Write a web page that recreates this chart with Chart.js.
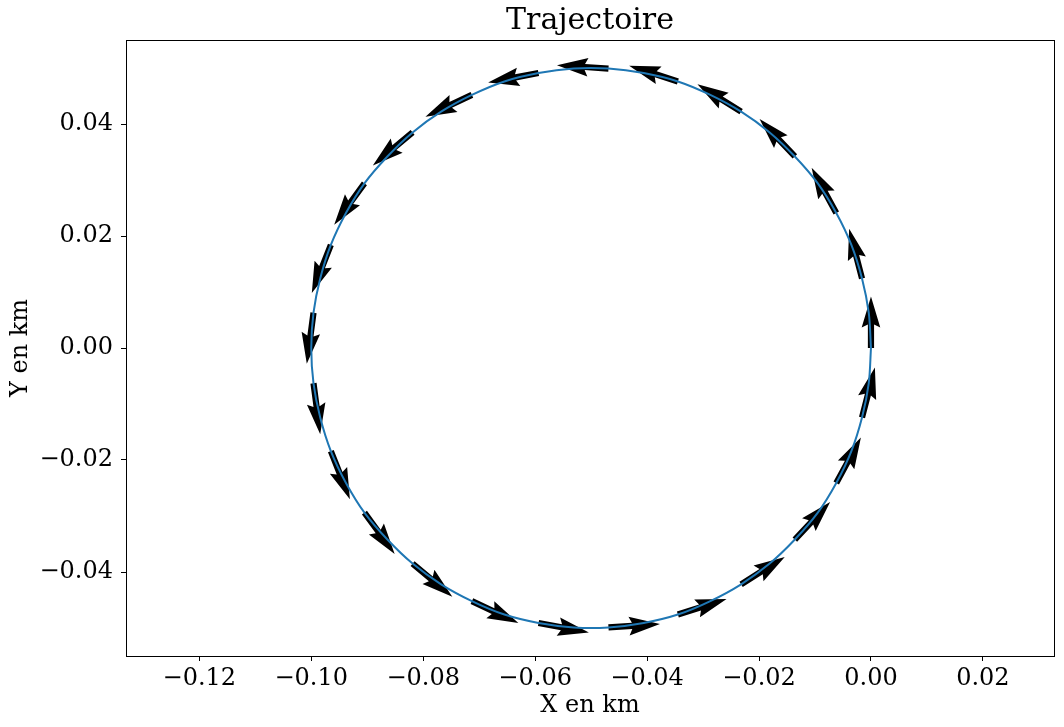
<!DOCTYPE html>
<html>
<head>
<meta charset="utf-8">
<script src="https://cdn.jsdelivr.net/npm/chart.js@4/dist/chart.umd.min.js"></script>
<style>
  html, body { margin: 0; padding: 0; background: #fff; }
  #wrap { width: 1064px; height: 727px; }
</style>
</head>
<body>
<div id="wrap"><canvas id="c" width="1064" height="727"></canvas></div>
<script>
// trajectory (km): circle of radius 0.05 centred on (-0.05, 0)
const trajX = [
  0.0000, -0.0004, -0.0016, -0.0035, -0.0062, -0.0095, -0.0136, -0.0181, -0.0232, -0.0287,
  -0.0345, -0.0406, -0.0469, -0.0531, -0.0594, -0.0655, -0.0713, -0.0768, -0.0819, -0.0864,
  -0.0905, -0.0938, -0.0965, -0.0984, -0.0996, -0.1000, -0.0996, -0.0984, -0.0965, -0.0938,
  -0.0905, -0.0864, -0.0819, -0.0768, -0.0713, -0.0655, -0.0594, -0.0531, -0.0469, -0.0406,
  -0.0345, -0.0287, -0.0232, -0.0181, -0.0136, -0.0095, -0.0062, -0.0035, -0.0016, -0.0004,
  0.0000
];
const trajY = [
  0.0000, 0.0063, 0.0124, 0.0184, 0.0241, 0.0294, 0.0342, 0.0385, 0.0422, 0.0452,
  0.0476, 0.0491, 0.0499, 0.0499, 0.0491, 0.0476, 0.0452, 0.0422, 0.0385, 0.0342,
  0.0294, 0.0241, 0.0184, 0.0124, 0.0063, 0.0000, -0.0063, -0.0124, -0.0184, -0.0241,
  -0.0294, -0.0342, -0.0385, -0.0422, -0.0452, -0.0476, -0.0491, -0.0499, -0.0499, -0.0491,
  -0.0476, -0.0452, -0.0422, -0.0385, -0.0342, -0.0294, -0.0241, -0.0184, -0.0124, -0.0063,
  0.0000
];

// velocity arrows (quiver): tail positions and vector components
const arrowX = [
  0.0000, -0.0016, -0.0062, -0.0136, -0.0232, -0.0345, -0.0469, -0.0594, -0.0713, -0.0819,
  -0.0905, -0.0965, -0.0996, -0.0996, -0.0965, -0.0905, -0.0819, -0.0713, -0.0594, -0.0469,
  -0.0345, -0.0232, -0.0136, -0.0062, -0.0016
];
const arrowY = [
  0.0000, 0.0124, 0.0241, 0.0342, 0.0422, 0.0476, 0.0499, 0.0491, 0.0452, 0.0385,
  0.0294, 0.0184, 0.0063, -0.0063, -0.0184, -0.0294, -0.0385, -0.0452, -0.0491, -0.0499,
  -0.0476, -0.0422, -0.0342, -0.0241, -0.0124
];
const arrowU = [
  0.0000, -0.0023, -0.0044, -0.0063, -0.0078, -0.0087, -0.0092, -0.0090, -0.0083, -0.0071,
  -0.0054, -0.0034, -0.0012, 0.0012, 0.0034, 0.0054, 0.0071, 0.0083, 0.0090, 0.0092,
  0.0087, 0.0078, 0.0063, 0.0044, 0.0023
];
const arrowV = [
  0.0092, 0.0089, 0.0081, 0.0067, 0.0049, 0.0028, 0.0006, -0.0017, -0.0039, -0.0059,
  -0.0074, -0.0086, -0.0091, -0.0091, -0.0086, -0.0074, -0.0059, -0.0039, -0.0017, 0.0006,
  0.0028, 0.0049, 0.0067, 0.0081, 0.0089
];

const xTicks = [-0.12, -0.10, -0.08, -0.06, -0.04, -0.02, 0.00, 0.02];
const yTicks = [-0.04, -0.02, 0.00, 0.02, 0.04];

const SERIF = "'DejaVu Serif', serif";
const fmt = v => (v < -1e-9 ? '\u2212' : '') + Math.abs(v).toFixed(2);

// matplotlib-like quiver arrows, drawn under the line
const quiverPlugin = {
  id: 'quiver',
  beforeDatasetsDraw(chart) {
    const { ctx, chartArea: a, scales: { x, y } } = chart;
    const w = 6.2, hl = 5 * w, hal = 4.5 * w, hw = 3 * w;
    ctx.save();
    ctx.beginPath();
    ctx.rect(a.left, a.top, a.right - a.left, a.bottom - a.top);
    ctx.clip();
    ctx.fillStyle = '#000';
    for (let i = 0; i < arrowX.length; i++) {
      const x0 = x.getPixelForValue(arrowX[i]);
      const y0 = y.getPixelForValue(arrowY[i]);
      const x1 = x.getPixelForValue(arrowX[i] + arrowU[i]);
      const y1 = y.getPixelForValue(arrowY[i] + arrowV[i]);
      const L = Math.hypot(x1 - x0, y1 - y0);
      ctx.save();
      ctx.translate(x0, y0);
      ctx.rotate(Math.atan2(y1 - y0, x1 - x0));
      ctx.beginPath();
      ctx.moveTo(0, -w / 2);
      ctx.lineTo(L - hal, -w / 2);
      ctx.lineTo(L - hl, -hw / 2);
      ctx.lineTo(L, 0);
      ctx.lineTo(L - hl, hw / 2);
      ctx.lineTo(L - hal, w / 2);
      ctx.lineTo(0, w / 2);
      ctx.closePath();
      ctx.fill();
      ctx.restore();
    }
    ctx.restore();
  },
  afterDraw(chart) {
    const { ctx, chartArea: a } = chart;
    ctx.save();
    ctx.strokeStyle = '#000';
    ctx.lineWidth = 1;
    ctx.strokeRect(Math.round(a.left) + 0.5, Math.round(a.top) + 0.5,
      Math.round(a.right - a.left), Math.round(a.bottom - a.top));
    ctx.restore();
  }
};

new Chart(document.getElementById('c'), {
  type: 'scatter',
  data: {
    datasets: [{
      data: trajX.map((v, i) => ({ x: v, y: trajY[i] })),
      showLine: true,
      borderColor: '#1f77b4',
      borderWidth: 2,
      pointRadius: 0,
      tension: 0.33,
      fill: false
    }]
  },
  options: {
    responsive: false,
    animation: false,
    devicePixelRatio: 1,
    layout: { padding: { left: 0, right: 10, top: 0, bottom: 0 } },
    plugins: {
      legend: { display: false },
      tooltip: { enabled: false },
      title: {
        display: true,
        fullSize: false,
        text: 'Trajectoire',
        color: '#000',
        font: { family: SERIF, size: 30, weight: 'normal' },
        padding: { top: 3, bottom: 1 }
      }
    },
    scales: {
      x: {
        type: 'linear',
        min: -0.1331,
        max: 0.0327,
        afterBuildTicks: s => { s.ticks = xTicks.map(value => ({ value })); },
        afterFit: s => { s.height = 71; },
        ticks: { callback: fmt, color: '#000', font: { family: SERIF, size: 24 }, padding: 3, maxRotation: 0 },
        grid: { drawOnChartArea: false, drawTicks: true, tickLength: 5, color: '#000', lineWidth: 1 },
        border: { display: false },
        title: {
          display: true, text: 'X en km', color: '#000',
          font: { family: SERIF, size: 24 }, padding: { top: 0, bottom: 7 }
        }
      },
      y: {
        type: 'linear',
        min: -0.055,
        max: 0.055,
        afterBuildTicks: s => { s.ticks = yTicks.map(value => ({ value })); },
        afterFit: s => { s.width = 126; },
        ticks: { callback: fmt, color: '#000', font: { family: SERIF, size: 24 }, padding: 8 },
        grid: { drawOnChartArea: false, drawTicks: true, tickLength: 5, color: '#000', lineWidth: 1 },
        border: { display: false },
        title: {
          display: true, text: 'Y en km', color: '#000',
          font: { family: SERIF, size: 24 }, padding: { top: 6, bottom: 0 }
        }
      }
    }
  },
  plugins: [quiverPlugin]
});
</script>
</body>
</html>
